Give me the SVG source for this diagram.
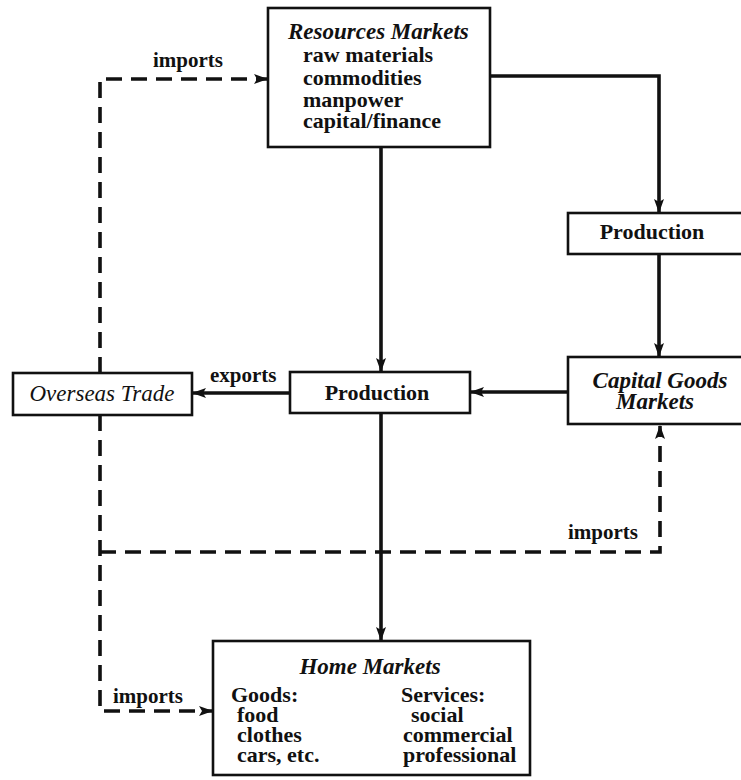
<svg xmlns="http://www.w3.org/2000/svg" width="741" height="780" viewBox="0 0 741 780">
  <style>
    .box { fill: #ffffff; stroke: #111111; stroke-width: 2.6; }
    .flow { fill: none; stroke: #111111; stroke-width: 3.6; }
    .trade { fill: none; stroke: #111111; stroke-width: 3.6; stroke-dasharray: 16 9; }
    text { font-family: "Liberation Serif", "Times New Roman", serif; fill: #111111; }
    .head { font-size: 23px; font-style: italic; font-weight: bold; }
    .body { font-size: 22px; font-weight: bold; }
    .label { font-size: 21px; font-weight: bold; }
    .mid { text-anchor: middle; }
  </style>
  <defs>
    <marker id="arrow" viewBox="0 0 14 10" refX="13" refY="5" markerWidth="14" markerHeight="10" markerUnits="userSpaceOnUse" orient="auto">
      <path d="M0,0 L14,5 L0,10 L3,5 z" fill="#111111"/>
    </marker>
  </defs>
  <rect width="741" height="780" fill="#ffffff"/>

  <!-- connectors -->
  <g id="connectors">
    <!-- solid flows of goods -->
    <path class="flow" d="M490,76 H659 V212" marker-end="url(#arrow)"/>
    <path class="flow" d="M381,147 V371" marker-end="url(#arrow)"/>
    <path class="flow" d="M659,254 V356" marker-end="url(#arrow)"/>
    <path class="flow" d="M568,392 H471" marker-end="url(#arrow)"/>
    <path class="flow" d="M290,393 H193" marker-end="url(#arrow)"/>
    <path class="flow" d="M381,413 V640" marker-end="url(#arrow)"/>
    <!-- dashed trade links from overseas trade -->
    <path class="trade" d="M100,373 V79 H267" marker-end="url(#arrow)"/>
    <path class="trade" d="M100,552 H660 V426" marker-end="url(#arrow)"/>
    <path class="trade" d="M100,415 V711 H212" marker-end="url(#arrow)"/>
    <!-- connector labels -->
    <text class="label" x="153" y="67">imports</text>
    <text class="label" x="210" y="382">exports</text>
    <text class="label" x="568" y="539">imports</text>
    <text class="label" x="113" y="703">imports</text>
  </g>

  <g id="resources-markets">
    <rect class="box" x="268" y="8" width="222" height="139"/>
    <text class="head" x="288" y="39">Resources Markets</text>
    <text class="body" x="303" y="62">raw materials</text>
    <text class="body" x="303" y="85">commodities</text>
    <text class="body" x="303" y="107">manpower</text>
    <text class="body" x="303" y="128">capital/finance</text>
  </g>

  <g id="production-capital">
    <rect class="box" x="568" y="213" width="180" height="41"/>
    <text class="body mid" x="652" y="239">Production</text>
  </g>

  <g id="capital-goods-markets">
    <rect class="box" x="568" y="357" width="184" height="67"/>
    <text class="head mid" x="660" y="388">Capital Goods</text>
    <text class="head mid" x="655" y="409">Markets</text>
  </g>

  <g id="production-main">
    <rect class="box" x="290" y="372" width="180" height="41"/>
    <text class="body mid" x="377" y="400">Production</text>
  </g>

  <g id="overseas-trade">
    <rect class="box" x="13" y="373" width="179" height="42"/>
    <text class="mid" x="102" y="401" font-size="23" font-style="italic">Overseas Trade</text>
  </g>

  <g id="home-markets">
    <rect class="box" x="213" y="641" width="317" height="134"/>
    <text class="head mid" x="370" y="674">Home Markets</text>
    <text class="body" x="231" y="702">Goods:</text>
    <text class="body" x="237" y="722">food</text>
    <text class="body" x="237" y="742">clothes</text>
    <text class="body" x="237" y="762">cars, etc.</text>
    <text class="body" x="401" y="702">Services:</text>
    <text class="body" x="411" y="722">social</text>
    <text class="body" x="403" y="742">commercial</text>
    <text class="body" x="403" y="762">professional</text>
  </g>
</svg>
